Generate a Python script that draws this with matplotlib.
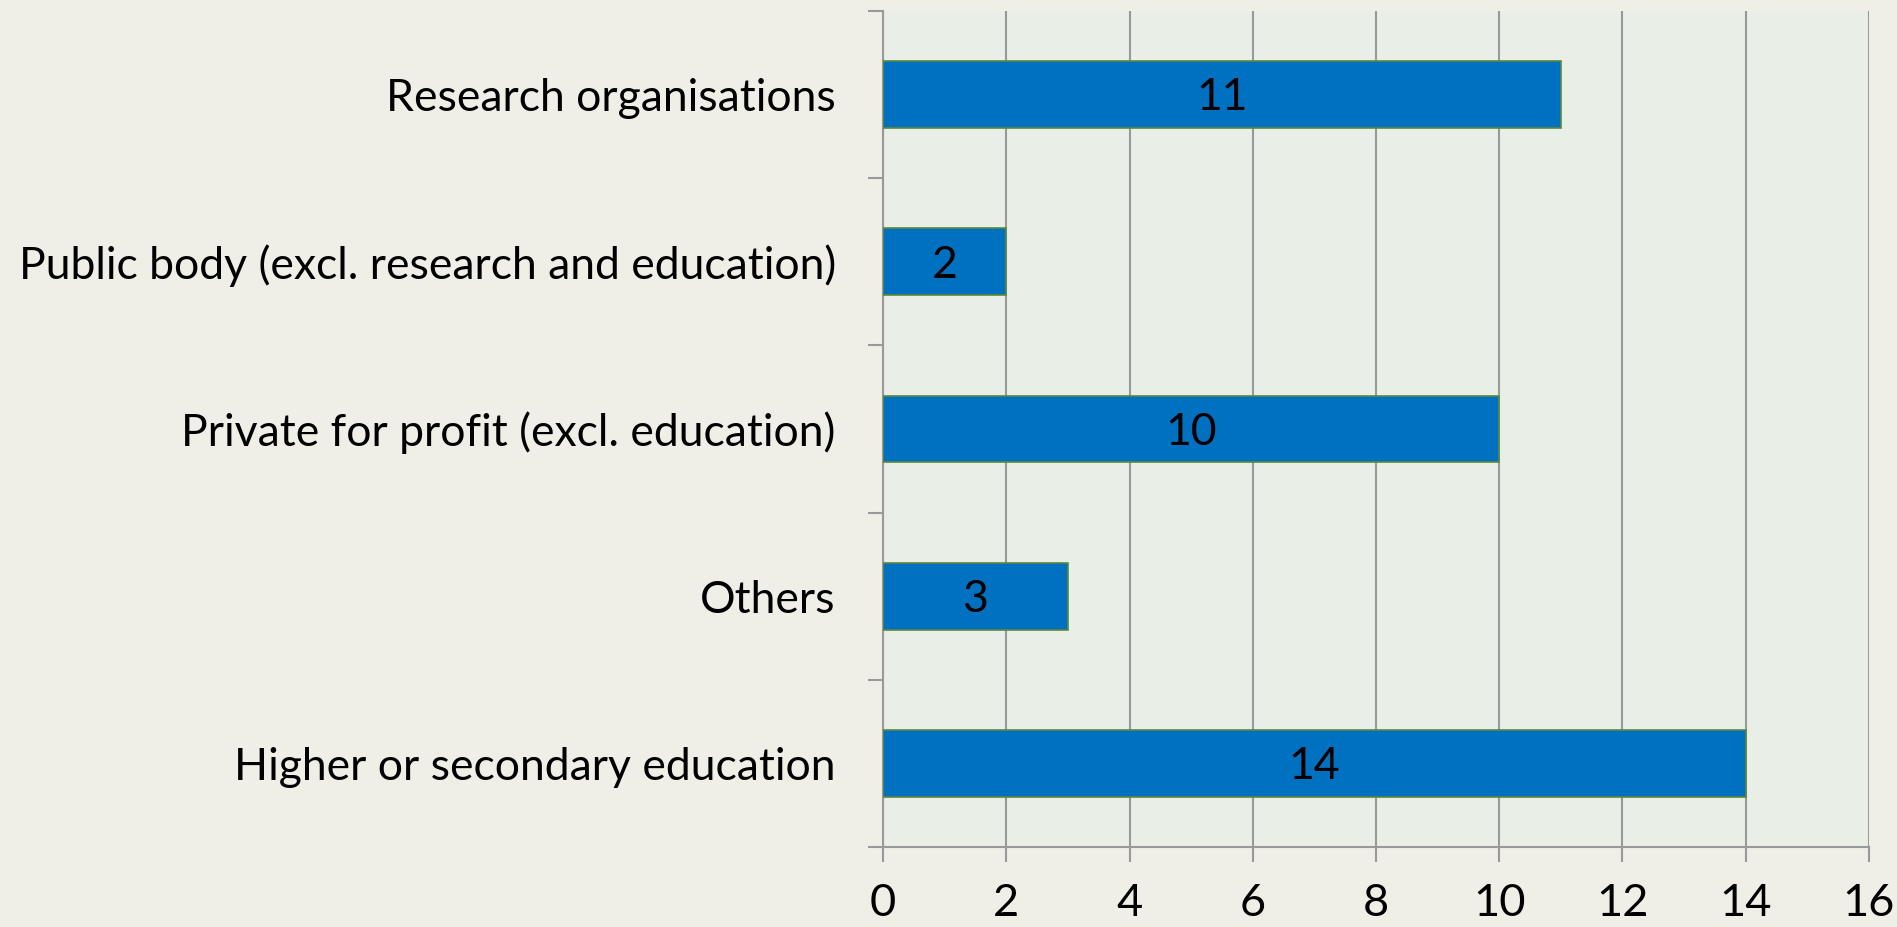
import matplotlib

matplotlib.use("Agg")
import matplotlib.pyplot as plt
import numpy as np

categories = [
    "Research organisations",
    "Public body (excl. research and education)",
    "Private for profit (excl. education)",
    "Others",
    "Higher or secondary education",
]
counts = [11, 2, 10, 3, 14]
x_ticks = [0, 2, 4, 6, 8, 10, 12, 14, 16]

plt.rcParams["font.family"] = ["Lato", "DejaVu Sans"]

fig = plt.figure(figsize=(18.97, 9.27), dpi=100, facecolor="#efefe7")
ax = fig.add_axes([0.4655, 0.0863, 0.9852 - 0.4655, 0.9881 - 0.0863])
ax.set_facecolor("#e9efe7")

pos = np.arange(len(categories))
ax.barh(pos, counts, height=0.4, color="#0070c0",
        edgecolor="#5a8a3a", linewidth=1.2, zorder=3)
for y, v in zip(pos, counts):
    ax.text(v / 2, y + 0.02, str(v), ha="center", va="center", fontsize=32,
            color="black", zorder=4)

ax.set_xlim(0, 16)
ax.set_ylim(len(categories) - 0.5, -0.5)
ax.set_xticks(x_ticks)
ax.set_xticklabels([str(t) for t in x_ticks])
ax.set_yticks(pos)
ax.set_yticklabels(categories)
ax.set_yticks(np.arange(-0.5, len(categories), 1.0), minor=True)

ax.xaxis.grid(True, color="#999999", linewidth=1.5, zorder=1)
ax.yaxis.grid(False)
for side in ["top", "right"]:
    ax.spines[side].set_visible(False)
for side in ["left", "bottom"]:
    ax.spines[side].set_color("#999999")
    ax.spines[side].set_linewidth(1.5)

ax.tick_params(axis="x", direction="out", length=11, width=1.5,
               color="#999999", labelsize=32.5, pad=15)
ax.tick_params(axis="y", which="major", length=0, labelsize=32, pad=34)
ax.tick_params(axis="y", which="minor", length=11, width=1.5,
               color="#999999")

fig.savefig("out.png", dpi=100, facecolor=fig.get_facecolor())
